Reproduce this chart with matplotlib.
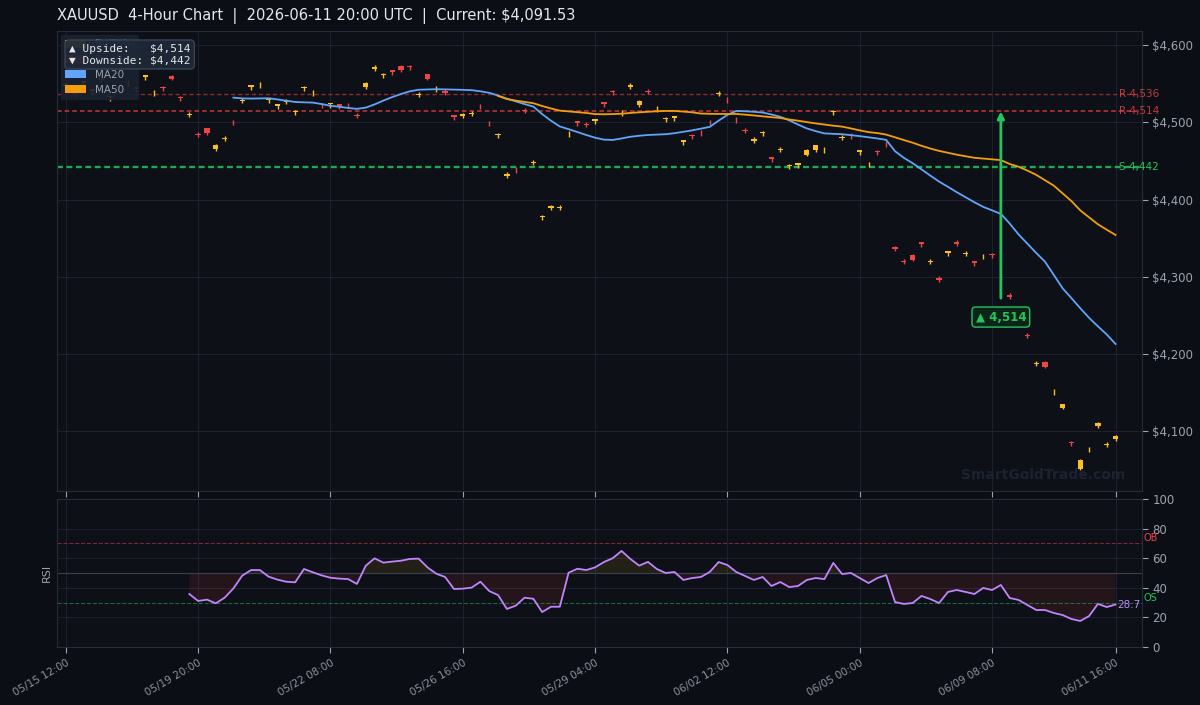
import matplotlib
matplotlib.use('Agg')
import matplotlib.pyplot as plt
import numpy as np
from matplotlib.patches import Patch
import matplotlib.transforms as mtransforms

# ---- data ----
opens = [4547, 4539, 4551, 4541, 4557, 4532, 4546, 4550.7, 4545, 4559,
         4537.7, 4546, 4560, 4533, 4509.7, 4485, 4492, 4465, 4478.7, 4500.3,
         4527.7, 4546, 4547.7, 4529, 4521, 4526.7, 4513, 4544, 4537.7, 4522.3,
         4523, 4523, 4522.3, 4509.3, 4545, 4569, 4561, 4567, 4573, 4573,
         4535.7, 4562, 4542.7, 4540, 4509, 4508, 4510.7, 4520.3, 4498.3, 4483,
         4431, 4438.3, 4515.3, 4447.7, 4377, 4389, 4389.7, 4484.7, 4501, 4497.3,
         4502, 4526, 4541, 4511.7, 4546, 4522, 4540.3, 4516.7, 4504, 4506,
         4475, 4484, 4486.3, 4500.3, 4536, 4529.3, 4503.3, 4489.3, 4476, 4486,
         4455, 4464.7, 4443, 4445, 4458, 4464, 4463.7, 4513, 4479.7, 4482.3,
         4462, 4444.7, 4463, 4472.3, 4338, 4321, 4328, 4345, 4319, 4298,
         4331, 4345, 4329, 4320, 4325.7, 4330, 4300.3, 4276, 4261, 4224.3,
         4187, 4190, 4150.7, 4131, 4087, 4051, 4076.7, 4107, 4082.7, 4090]
highs = [4551.5, 4539.5, 4553.5, 4543.5, 4559.5, 4534.5, 4546.5, 4554.5, 4545.5, 4561.5,
         4541.5, 4546.5, 4561, 4533.5, 4513.5, 4487.5, 4493, 4472, 4482.5, 4503.5,
         4531.5, 4548.5, 4551.5, 4531.5, 4523.5, 4530.5, 4515.5, 4546.5, 4541.5, 4525.5,
         4525.5, 4523.5, 4525.5, 4512.5, 4552, 4573.5, 4563.5, 4567.5, 4574, 4573.5,
         4539.5, 4563, 4546.5, 4542.5, 4509.5, 4512.5, 4514.5, 4523.5, 4501.5, 4485.5,
         4435.5, 4441.5, 4518.5, 4451.5, 4379.5, 4393.5, 4393.5, 4488.5, 4501.5, 4500.5,
         4504.5, 4526.5, 4541.5, 4515.5, 4550.5, 4529, 4543.5, 4520.5, 4506.5, 4508.5,
         4477.5, 4484.5, 4489.5, 4503.5, 4540.5, 4532.5, 4506.5, 4492.5, 4480.5, 4488.5,
         4455.5, 4468.5, 4445.5, 4447.5, 4465, 4471, 4467.5, 4515.5, 4483.5, 4485.5,
         4464.5, 4448.5, 4463.5, 4475.5, 4340.5, 4323.5, 4329, 4345.5, 4323.5, 4300.5,
         4333.5, 4347.5, 4333.5, 4320.5, 4329.5, 4330.5, 4303.5, 4278.5, 4261.5, 4227.5,
         4191.5, 4191, 4154.5, 4136, 4087.5, 4064, 4080.5, 4112, 4086.5, 4096]
lows = [4544.5, 4533, 4547, 4537, 4552.5, 4528, 4540, 4547.5, 4539, 4555,
        4534.5, 4540, 4554, 4527, 4506.5, 4480.5, 4484, 4463, 4475.5, 4496.5,
        4524.5, 4542, 4544.5, 4525, 4517, 4523.5, 4509, 4540, 4534.5, 4518.5,
        4519, 4517, 4518.5, 4505.5, 4543, 4566.5, 4557, 4561, 4565, 4567,
        4532.5, 4554, 4539.5, 4535.5, 4503, 4505.5, 4507.5, 4516.5, 4494.5, 4479,
        4428.5, 4434.5, 4511.5, 4444.5, 4373, 4386.5, 4386.5, 4481.5, 4495, 4493.5,
        4498, 4520, 4535, 4508.5, 4543.5, 4520, 4536.5, 4513.5, 4500, 4502,
        4471, 4478, 4482.5, 4496.5, 4533.5, 4525.5, 4499.5, 4485.5, 4473.5, 4482,
        4449, 4461.5, 4439, 4441, 4456, 4462, 4460.5, 4509, 4476.5, 4478.5,
        4458, 4441.5, 4457, 4468.5, 4333.5, 4316.5, 4320, 4339, 4316.5, 4293.5,
        4327, 4340.5, 4326.5, 4314, 4322.5, 4324, 4296.5, 4271.5, 4255, 4220.5,
        4184.5, 4182, 4147.5, 4129, 4081, 4050, 4073.5, 4105, 4079.5, 4088]
closes = [4549, 4537, 4553, 4543, 4555, 4534, 4544, 4551.3, 4543, 4561,
          4538.3, 4544, 4556, 4531, 4510.3, 4483, 4486, 4471, 4479.3, 4499.7,
          4528.3, 4548, 4548.3, 4531, 4523, 4527.3, 4515, 4546, 4538.3, 4521.7,
          4525, 4521, 4521.7, 4508.7, 4551, 4571, 4563, 4565, 4567, 4571,
          4536.3, 4556, 4543.3, 4538, 4507, 4510, 4511.3, 4519.7, 4497.7, 4485,
          4433, 4437.7, 4514.7, 4448.3, 4379, 4391, 4390.3, 4485.3, 4499, 4496.7,
          4504, 4524, 4539, 4512.3, 4548, 4528, 4539.7, 4517.3, 4506, 4508,
          4477, 4482, 4485.7, 4499.7, 4538, 4528.7, 4502.7, 4488.7, 4478, 4488,
          4453, 4465.3, 4445, 4447, 4464, 4470, 4464.3, 4515, 4480.3, 4481.7,
          4464, 4445.3, 4461, 4471.7, 4336, 4319, 4322, 4343, 4321, 4296,
          4333, 4343, 4331, 4318, 4326.3, 4328, 4299.7, 4274, 4259, 4223.7,
          4189, 4184, 4151.3, 4135, 4085, 4063, 4077.3, 4111, 4083.3, 4094]

ma20 = [4531.8, 4530.8, 4530.6, 4530.8, 4531.0, 4529.5, 4527.8, 4526.2, 4525.7, 4525.4,
        4523.5, 4521.3, 4520.0, 4518.5, 4517.3, 4518.9, 4523.0, 4528.0, 4532.5, 4536.5,
        4540.0, 4542.0, 4542.4, 4542.7, 4542.5, 4542.2, 4541.9, 4541.5, 4540.0, 4538.0,
        4534.5, 4530.5, 4527.0, 4523.5, 4520.2, 4510.5, 4502.0, 4494.5, 4491.0, 4487.3,
        4483.5, 4480.0, 4477.5, 4477.1, 4479.0, 4481.2, 4482.5, 4483.5, 4484.0, 4484.5,
        4485.8, 4487.6, 4489.5, 4491.7, 4494.0, 4502.0, 4509.5, 4514.6, 4514.2, 4513.5,
        4512.5, 4510.0, 4507.0, 4502.5, 4497.0, 4492.0, 4488.5, 4485.5, 4485.0, 4484.5,
        4483.3, 4482.0, 4480.5, 4479.0, 4477.2, 4462.5, 4454.0, 4447.0, 4439.0, 4431.0,
        4423.2, 4416.5, 4409.5, 4403.0, 4396.5, 4390.5, 4386.0, 4381.5, 4369.0, 4355.0,
        4343.0, 4331.0, 4319.7, 4302.5, 4285.2, 4272.5, 4259.5, 4247.0, 4236.0, 4225.5,
        4213.2]
ma50 = [4534.0, 4530.0, 4528.0, 4526.3, 4524.6, 4521.0, 4517.8, 4515.0, 4514.0, 4513.0,
        4512.0, 4510.5, 4510.3, 4510.5, 4511.0, 4512.0, 4512.8, 4513.5, 4514.2, 4514.6,
        4514.6, 4513.8, 4512.8, 4511.2, 4510.9, 4510.7, 4510.7, 4510.7, 4509.8, 4508.8,
        4507.6, 4506.5, 4505.5, 4503.5, 4502.0, 4500.2, 4498.5, 4497.0, 4495.5, 4494.3,
        4492.0, 4489.5, 4487.2, 4486.0, 4484.0, 4480.5, 4477.0, 4473.5, 4469.5, 4466.0,
        4462.9, 4460.5, 4458.0, 4456.0, 4454.0, 4453.0, 4452.0, 4451.0, 4446.0, 4442.5,
        4437.5, 4432.0, 4425.0, 4418.0, 4408.0, 4398.0, 4386.0, 4377.0, 4368.0, 4361.0,
        4354.2]
rsi = [35.8, 31.1, 32.0, 29.5, 33.3, 39.6, 48.2, 52.0, 52.0, 47.5,
       45.5, 44.1, 43.7, 52.7, 50.5, 48.4, 46.8, 46.2, 45.9, 42.6,
       54.9, 59.9, 57.0, 57.7, 58.3, 59.5, 59.7, 53.8, 49.5, 47.3,
       39.2, 39.4, 40.1, 44.1, 37.8, 35.1, 25.7, 27.9, 33.3, 32.6,
       23.6, 27.2, 27.2, 50.2, 52.9, 52.0, 53.8, 57.4, 60.0, 64.9,
       59.5, 55.0, 57.5, 52.7, 50.0, 50.7, 45.3, 46.6, 47.3, 50.7,
       57.4, 55.4, 50.7, 48.0, 45.3, 47.3, 41.2, 43.9, 40.5, 41.2,
       45.3, 46.6, 45.9, 56.8, 49.3, 50.0, 46.6, 43.2, 46.6, 48.6,
       30.4, 29.1, 29.7, 34.5, 32.4, 29.7, 37.2, 38.5, 37.2, 35.8,
       39.9, 38.5, 41.9, 33.1, 31.8, 28.4, 25.0, 25.0, 23.0, 21.6,
       18.9, 17.6, 20.9, 29.1, 27.0, 28.7]

tick_idx = [0, 15, 30, 45, 60, 75, 90, 105, 119]
tick_labels = ['05/15 12:00', '05/19 20:00', '05/22 08:00', '05/26 16:00', '05/29 04:00',
               '06/02 12:00', '06/05 00:00', '06/09 08:00', '06/11 16:00']
resistance = [4536, 4514]
support = 4442
upside = 4514
downside = 4442
current = 4091.53
target_idx = 106

# ---- colours ----
FIG_BG = '#0b0e14'
AX_BG = '#0d1017'
GRID = '#1c222d'
TXT = '#9aa3b0'
BULL = '#fbbf24'
BEAR = '#ef4444'
MA20C = '#60a5fa'
MA50C = '#f59e0b'
GREEN = '#22c55e'
PURPLE = '#c084fc'

fig = plt.figure(figsize=(12, 7.05), dpi=100, facecolor=FIG_BG)
ax = fig.add_axes([57 / 1200, 1 - 491 / 705, 1085 / 1200, 460 / 705])
ax2 = fig.add_axes([57 / 1200, 1 - 647 / 705, 1085 / 1200, 148 / 705], sharex=ax)

for a in (ax, ax2):
    a.set_facecolor(AX_BG)
    for s in a.spines.values():
        s.set_color('#262d3a')
    a.grid(True, color=GRID, lw=0.8)
    a.set_axisbelow(True)
    a.yaxis.tick_right()
    a.tick_params(colors=TXT, labelsize=8.5, length=4)

o = np.array(opens)
h = np.array(highs)
l = np.array(lows)
c = np.array(closes)
x = np.arange(len(c))
cols = [BULL if cc >= oo else BEAR for oo, cc in zip(o, c)]

ax.vlines(x, l, h, colors=cols, lw=1, zorder=3)
ax.bar(x, np.maximum(np.abs(c - o), 0.6), bottom=np.minimum(o, c), width=0.6,
       color=cols, zorder=3)

ax.plot(np.arange(len(c) - len(ma20), len(c)), ma20, color=MA20C, lw=1.3, zorder=4)
ax.plot(np.arange(len(c) - len(ma50), len(c)), ma50, color=MA50C, lw=1.3, zorder=4)

# levels
trans = mtransforms.blended_transform_factory(ax.transAxes, ax.transData)
ax.axhline(resistance[0], color=BEAR, ls=(0, (3, 2)), lw=1, alpha=0.55, zorder=2)
ax.axhline(resistance[1], color=BEAR, ls=(0, (3, 2)), lw=1.1, alpha=0.8, zorder=2)
ax.axhline(support, color=GREEN, ls=(0, (2.5, 1.5)), lw=1.7, alpha=0.85, zorder=2)
for lv in resistance:
    ax.text(0.979, lv, f'R {lv:,}', transform=trans, color=BEAR, alpha=0.8,
            fontsize=7.5, va='center', ha='left', clip_on=False)
ax.text(0.979, support, f'S {support:,}', transform=trans, color=GREEN,
        fontsize=7.5, va='center', ha='left', clip_on=False)

ax.annotate(f'▲ {upside:,}', xy=(target_idx, upside), xytext=(target_idx, 4248),
            ha='center', va='center', color=GREEN, fontsize=8.5, fontweight='bold',
            bbox=dict(boxstyle='round,pad=0.3', fc='#0f2418', ec=GREEN, lw=1),
            arrowprops=dict(arrowstyle='-|>', color=GREEN, lw=2, mutation_scale=10,
                            shrinkA=6, shrinkB=0), zorder=6)

ax.set_xlim(-1, 122)
ax.set_ylim(4023, 4618)
ax.set_yticks([4100, 4200, 4300, 4400, 4500, 4600])
ax.set_yticklabels([f'${v:,}' for v in [4100, 4200, 4300, 4400, 4500, 4600]])
ax.set_xticks(tick_idx)
ax.tick_params(axis='x', labelbottom=False)

handles = [Patch(fc=BULL, label='Bullish'), Patch(fc=BEAR, label='Bearish'),
           Patch(fc=MA20C, label='MA20'), Patch(fc=MA50C, label='MA50')]
leg = ax.legend(handles=handles, loc='upper left', fontsize=7.5, facecolor='#1a2130',
                edgecolor='#1a2130', labelcolor=TXT, framealpha=0.9,
                borderaxespad=0.4, handlelength=2.0, handleheight=0.8)
leg.set_zorder(7)

ax.text(0.011, 0.972, '▲ Upside:   \\$4,514\n▼ Downside: \\$4,442', transform=ax.transAxes,
        family=['DejaVu Sans Mono', 'DejaVu Sans'], fontsize=8, color='#e5e7eb',
        va='top', ha='left', linespacing=1.15, zorder=8,
        bbox=dict(boxstyle='round,pad=0.35', fc='#1e2836', ec='#3b4656', alpha=0.95))

ax.text(0.985, 0.02, 'SmartGoldTrade.com', transform=ax.transAxes, ha='right',
        va='bottom', fontsize=10, fontweight='bold', color='#1c2330', zorder=1)

# RSI panel
xr = np.arange(len(c) - len(rsi), len(c))
r = np.array(rsi)
ax2.plot(xr, r, color=PURPLE, lw=1.3, zorder=4)
ax2.fill_between(xr, r, 50, where=r < 50, interpolate=True, color=BEAR, alpha=0.1, lw=0)
ax2.fill_between(xr, r, 50, where=r > 50, interpolate=True, color='#eab308', alpha=0.1, lw=0)
ax2.axhline(70, color=BEAR, ls='--', lw=0.8, alpha=0.5)
ax2.axhline(30, color=GREEN, ls='--', lw=0.8, alpha=0.5)
ax2.axhline(50, color='#3a4250', lw=0.8)
ax2.set_ylim(0, 100)
ax2.set_yticks([0, 20, 40, 60, 80, 100])
ax2.set_ylabel('RSI', color=TXT, fontsize=8)
ax2.yaxis.set_label_position('left')
ax2.set_xticks(tick_idx)
ax2.set_xticklabels(tick_labels, rotation=30, ha='right', rotation_mode='anchor',
                    fontsize=7.5, color='#8b93a1')
trans2 = mtransforms.blended_transform_factory(ax2.transAxes, ax2.transData)
ax2.text(1.001, 70, 'OB', transform=trans2, color=BEAR, fontsize=7, va='bottom', ha='left')
ax2.text(1.001, 30, 'OS', transform=trans2, color=GREEN, fontsize=7, va='bottom', ha='left')
ax2.text(0.999, rsi[-1], f'{rsi[-1]:.1f}', transform=trans2, color=PURPLE, fontsize=7.5,
         va='center', ha='right')

fig.text(57 / 1200, 1 - 16 / 705,
         f'XAUUSD  4-Hour Chart  |  2026-06-11 20:00 UTC  |  Current: ${current:,.2f}',
         color='#e5e7eb', fontsize=10.5, va='center', ha='left')

fig.savefig('out.png', dpi=100, facecolor=FIG_BG)
